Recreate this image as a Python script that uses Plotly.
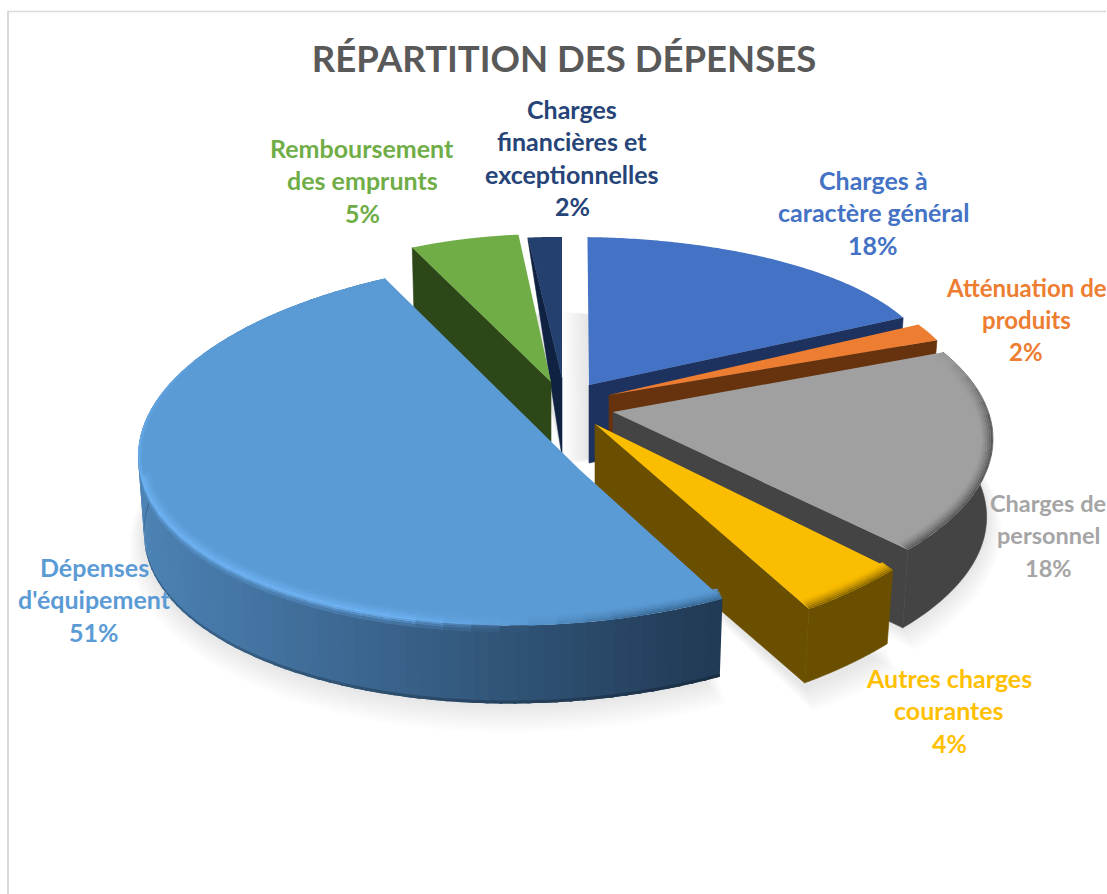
import math
import plotly.graph_objects as go

# ---- data ----
categories = ["Charges à caractère général", "Atténuation de produits", "Charges de personnel",
              "Autres charges courantes", "Dépenses d'équipement", "Remboursement des emprunts",
              "Charges financières et exceptionnelles"]
values = [18, 2, 18, 4, 51, 5, 2]
title_text = "RÉPARTITION DES DÉPENSES"
label_lines = [["Charges à", "caractère général"], ["Atténuation de", "produits"], ["Charges de", "personnel"],
               ["Autres charges", "courantes"], ["Dépenses", "d'équipement"], ["Remboursement", "des emprunts"],
               ["Charges", "financières et", "exceptionnelles"]]

# ---- styles ----
top_colors = ["#4472C4", "#ED7D31", "#A0A0A0", "#FBBD00", "#5B9BD5", "#70AD47", "#23406F"]
text_colors = ["#4472C4", "#ED7D31", "#A5A5A5", "#FFC000", "#5B9BD5", "#70AD47", "#264478"]
wall_colors = ["#1D325F", "#67330F", "#444444", "#6A4F00", "#2F5A82", "#2E4719", "#0F2242"]
# projection of every exploded slice: ellipse centre, radii, tilt, start angle, tip of the slice, wall depth at rim
views = [
    dict(ex=575, ey=370, rx=357, ry=133, tilt=0, a0=2, ax=589, ay=385, wr=78, front=False, wall="end", sx=-1.6),
    dict(ex=514, ey=377, rx=440, ry=133, tilt=0, a0=66.8, ax=609, ay=395, wr=78, front=False, wall="end", sx=0),
    dict(ex=566, ey=439, rx=427, ry=185, tilt=0, a0=62, ax=613, ay=412, wr=78, front=True, wall="end", sx=0),
    dict(ex=498, ey=444, rx=488, ry=214, tilt=0, a0=126, ax=595, ay=424, wr=74, front=True, wall="end", sx=0),
    dict(ex=540, ey=442, rx=402, ry=183, tilt=-14, a0=153, ax=580, ay=470, wr=78, front=True, wall=None, sx=0,
         stretch=1.004),
    dict(ex=549, ey=405, rx=350, ry=171, tilt=0, a0=337, ax=551, ay=382, wr=78, front=False, wall="start", sx=0),
    dict(ex=551.6, ey=407, rx=271, ry=170, tilt=0, a0=355, ax=562, ay=378, wr=2, front=False, wall="start", sx=0),
]
draw_order = [0, 6, 5, 1, 2, 3, 4]
depth = 78
label_pos = [(873, 180), (1026, 287), (1048, 503), (949, 678), (94, 567), (362, 148), (572, 109)]
label_sizes = [25, 24, 23.5, 25, 25, 25, 25]
label_gap = 32.3


def rgb(h):
    return tuple(int(h[i:i + 2], 16) for i in (1, 3, 5))


def mix(a, b, t):
    ca, cb = rgb(a), rgb(b)
    t = max(0, min(1, t))
    return "#%02x%02x%02x" % tuple(round(ca[i] + (cb[i] - ca[i]) * t) for i in range(3))


fig = go.Figure()


def poly(pts, color, opacity=None, line=False):
    xs = [p[0] for p in pts]
    ys = [p[1] for p in pts]
    fig.add_trace(go.Scatter(
        x=xs + [xs[0]], y=ys + [ys[0]], mode="lines", fill="toself", fillcolor=color,
        line=dict(color=color if line else "rgba(0,0,0,0)", width=0.6 if line else 0, simplify=False),
        hoverinfo="skip", showlegend=False, opacity=opacity))


def rim(v, a, inset=0, drop=0, grow=0):
    r = math.radians(a)
    x = v["ex"] + (v["rx"] + grow) * math.sin(r)
    y = v["ey"] - (v["ry"] + grow) * math.cos(r) + v["tilt"] * math.sin(r)
    if inset:
        x = v["ex"] + (x - v["ex"]) * (1 - inset / v["rx"])
        y = v["ey"] + (y - v["ey"]) * (1 - inset / v["ry"])
    if drop:
        x = v["ex"] + (x - v["ex"]) * (1 - 0.015 * drop / depth)
        y = y + drop
    return x, y


def angles(v, pct, n):
    sweep = pct * 3.6 * v.get("stretch", 1)
    return [v["a0"] + sweep * i / n for i in range(n + 1)]


def strip(v, a, b, o0, o1, kind, color):
    kw0 = {kind: o0} if o0 else {}
    kw1 = {kind: o1}
    poly([rim(v, a, **kw0), rim(v, b, **kw0), rim(v, b, **kw1), rim(v, a, **kw1)], color)


def side_shade(x):
    return mix("#4C82B4", "#213A55", (x - 143) / (722 - 143))


# soft shadows
for grow in range(16, 0, -2):
    for i in draw_order:
        v, pct = views[i], values[i]
        pts = [rim(v, a, drop=depth + grow * 0.8, grow=grow) for a in angles(v, pct, 40)]
        pts = [(v["ax"], v["ay"] + depth)] + pts
        pts = [(p[0] + v["sx"] * grow, p[1]) for p in pts]
        poly(pts, "#000000", opacity=0.012)

for i in draw_order:
    v, pct, top, wall = views[i], values[i], top_colors[i], wall_colors[i]
    n = max(4, int(pct * 3.6 / 4))
    aa = angles(v, pct, n)
    end = aa[-1]

    # straight wall
    if v["wall"]:
        a = aa[-1] if v["wall"] == "end" else aa[0]
        poly([(v["ax"], v["ay"]), rim(v, a), rim(v, a, drop=v["wr"]), (v["ax"], v["ay"] + depth)], wall, line=True)

    # outer side band
    if v["front"]:
        if i == 4:
            fine = angles(v, pct, max(4, int(pct * 3.6 / 2)))
            for a, b in zip(fine[:-1], fine[1:]):
                b2 = min(end, b + 0.5)
                c = side_shade(rim(v, a)[0])
                poly([rim(v, a), rim(v, b2), rim(v, b2, drop=v["wr"]), rim(v, a, drop=v["wr"])], c)
                # thin darker lower edge
                strip(v, a, b2, v["wr"] - 3, v["wr"], "drop", mix(c, "#000000", 0.22))
        else:
            fine = angles(v, pct, 60)
            poly([rim(v, a) for a in fine] + [rim(v, a, drop=v["wr"]) for a in reversed(fine)], wall, line=True)

    # top face
    poly([(v["ax"], v["ay"])] + [rim(v, a) for a in angles(v, pct, 120)], top)

    # bevel along the rim of the front slices
    if v["front"]:
        for a, b in zip(aa[:-1], aa[1:]):
            b2 = min(end, b + 0.6)
            m = (a + b) / 2
            if i == 4:
                light = max(-1, min(1, (m - 183) / 18))
                if m > 268:
                    light *= max(0, 1 - (m - 268) / 40)
                width = 12 if m < 262 else 5
            else:
                light = -1 if m > 85 else -(m - 62) / 23
                width = 13
            tint = "#70B6F8" if light > 0 else mix(top, wall, 0.85)
            steps = 7
            for s in range(steps):
                w0, w1 = width * s / steps, width * (s + 1) / steps
                k = (1 - (s + 0.5) / steps) ** 1.5
                strip(v, a, b2, w0, w1, "inset", mix(top, tint, abs(light) * k))
            if i == 4 and light > 0 and m < 272:
                base = side_shade(rim(v, m)[0])
                for d0, d1, k in [(0, 2, 0.8), (2, 4, 0.5), (4, 7, 0.22)]:
                    strip(v, a, b2, d0, d1, "drop", mix(base, tint, light * k))

# labels
annotations = []
for i, (cx, y0) in enumerate(label_pos):
    lines = label_lines[i] + ["%d%%" % values[i]]
    for j, t in enumerate(lines):
        annotations.append(dict(x=cx, y=y0 + j * label_gap, text="<b>%s</b>" % t, showarrow=False,
                                xanchor="center", yanchor="middle", xref="x", yref="y",
                                font=dict(family="Lato", size=label_sizes[i], color=text_colors[i])))

fig.update_layout(
    width=1107, height=894, margin=dict(l=0, r=0, t=0, b=0),
    paper_bgcolor="white", plot_bgcolor="white", showlegend=False,
    title=dict(text="<b>%s</b>" % title_text, x=564 / 1107, xanchor="center", y=1 - 59 / 894, yanchor="middle",
               font=dict(family="Lato", size=36.5, color="#595959")),
    xaxis=dict(range=[0, 1107], visible=False, fixedrange=True),
    yaxis=dict(range=[894, 0], visible=False, fixedrange=True),
    annotations=annotations,
    shapes=[dict(type="line", x0=8, x1=1106, y0=11.5, y1=11.5, line=dict(color="#D9D9D9", width=1.5), layer="below"),
            dict(type="line", x0=8, x1=8, y0=11, y1=894, line=dict(color="#D9D9D9", width=2), layer="below")],
)
fig.write_html("out.html", post_script="document.body.style.margin='0';document.body.style.overflow='hidden';",
               config={"displayModeBar": False})
